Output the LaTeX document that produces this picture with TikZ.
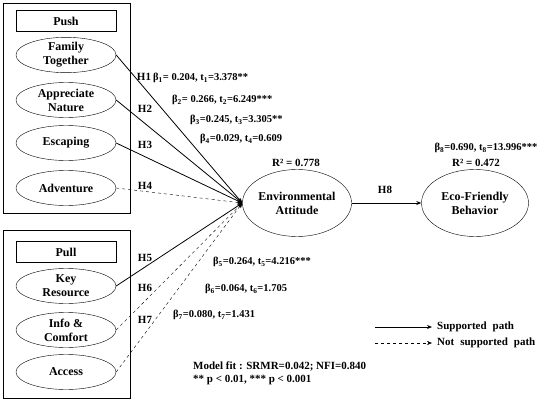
\documentclass[tikz,border=0pt]{standalone}
\usepackage{fontspec}
\setmainfont{Liberation Serif}
\usetikzlibrary{shapes.geometric,arrows.meta}
\begin{document}
\begin{tikzpicture}[x=1pt,y=-1pt,
  lat/.style={draw,ellipse,inner sep=0pt,minimum width=100pt,minimum height=35pt,align=center,font=\bfseries\fontsize{12}{14}\selectfont},
  bigl/.style={draw,ellipse,inner sep=0pt,minimum width=107pt,minimum height=67pt,align=center,font=\bfseries\fontsize{12}{14}\selectfont},
  grp/.style={draw,inner sep=0pt},
  ttl/.style={draw,inner sep=0pt,minimum width=100pt,minimum height=21pt,font=\bfseries\fontsize{12}{14}\selectfont},
  lbl/.style={inner sep=0pt,font=\bfseries\fontsize{11}{13}\selectfont},
  coef/.style={inner sep=0pt,font=\bfseries\fontsize{10.5}{12}\selectfont},
  sup/.style={thick,-{Stealth[length=5pt,width=4pt]}},
  nsup/.style={dashed,-{Stealth[length=5pt,width=4pt]}}]
\useasboundingbox (0,0) rectangle (550,402);
% groups
\draw[grp] (3,3) rectangle (130,213);
\draw[grp] (3,230) rectangle (130,398);
\node[ttl] (push) at (66,21) {Push};
\node[ttl] (pull) at (66,252) {Pull};
\node[lat] (ft) at (66,55) {Family\\Together};
\node[lat] (an) at (66,100) {Appreciate\\Nature};
\node[lat] (es) at (66,143) {Escaping};
\node[lat] (ad) at (66,188) {Adventure};
\node[lat] (kr) at (66,286) {Key\\Resource};
\node[lat] (ic) at (66,330) {Info \&\\Comfort};
\node[lat] (ac) at (66,372) {Access};
\node[bigl] (ea) at (297,203) {Environmental\\Attitude};
\node[bigl] (eb) at (475,203) {Eco-Friendly\\Behavior};
% paths
\draw[sup] (ft.east) -- (ea.west);
\draw[sup] (an.east) -- (ea.west);
\draw[sup] (es.east) -- (ea.west);
\draw[nsup] (ad.east) -- (ea.west);
\draw[sup] (kr.east) -- (ea.west);
\draw[nsup] (ic.east) -- (ea.west);
\draw[nsup] (ac.east) -- (ea.west);
\draw[sup] (ea.east) -- (eb.west);
% hypothesis labels
\node[lbl] (h1) at (144,77) {H1};
\node[lbl] (h2) at (145,109) {H2};
\node[lbl] (h3) at (145,145) {H3};
\node[lbl] (h4) at (145,186) {H4};
\node[lbl] (h5) at (145,258) {H5};
\node[lbl] (h6) at (145,288) {H6};
\node[lbl] (h7) at (145,320) {H7};
\node[lbl] (h8) at (385,190) {H8};
% coefficients
\node[coef,anchor=west] (b1) at (153,78) {β\textsubscript{1}= 0.204, t\textsubscript{1}=3.378**};
\node[coef,anchor=west] (b2) at (172,100) {β\textsubscript{2}= 0.266, t\textsubscript{2}=6.249***};
\node[coef,anchor=west] (b3) at (190,120) {β\textsubscript{3}=0.245, t\textsubscript{3}=3.305**};
\node[coef,anchor=west] (b4) at (200,139) {β\textsubscript{4}=0.029, t\textsubscript{4}=0.609};
\node[lbl] (r1) at (296,163) {R² = 0.778};
\node[coef] (b8) at (486,148) {β\textsubscript{8}=0.690, t\textsubscript{8}=13.996***};
\node[lbl] (r2) at (476,163) {R² = 0.472};
\node[coef,anchor=west] (b5) at (213,262) {β\textsubscript{5}=0.264, t\textsubscript{5}=4.216***};
\node[coef,anchor=west] (b6) at (205,289) {β\textsubscript{6}=0.064, t\textsubscript{6}=1.705};
\node[coef,anchor=west] (b7) at (173,315) {β\textsubscript{7}=0.080, t\textsubscript{7}=1.431};
% legend
\coordinate (l1a) at (375,327);
\coordinate (l1b) at (432,327);
\coordinate (l2a) at (375,343);
\coordinate (l2b) at (432,343);
\draw[thick,-{Stealth[length=5pt,width=4pt]}] (l1a) -- (l1b);
\draw[dashed,-{Stealth[length=5pt,width=4pt]}] (l2a) -- (l2b);
\node[lbl,anchor=west] (lg1) at (437,327) {Supported\hspace{6pt}path};
\node[lbl,anchor=west] (lg2) at (437,343) {Not\hspace{6pt}supported\hspace{6pt}path};
\node[lbl,anchor=west] (fit) at (193,366) {Model fit : SRMR=0.042; NFI=0.840};
\node[lbl,anchor=west] (pv) at (193,380) {** p < 0.01, *** p < 0.001};
\end{tikzpicture}
\end{document}
